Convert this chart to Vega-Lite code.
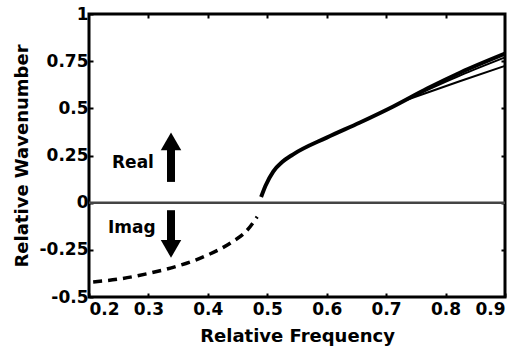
{
  "$schema": "https://vega.github.io/schema/vega-lite/v6.json",
  "width": 416,
  "height": 283,
  "autosize": {"type": "none"},
  "padding": {"left": 89, "top": 14, "right": 25, "bottom": 64},
  "background": "white",
  "config": {
    "view": {"stroke": "black", "strokeWidth": 3},
    "axis": {
      "labelFont": "DejaVu Sans", "labelFontWeight": "bold", "labelFontSize": 17, "labelColor": "black",
      "titleFont": "DejaVu Sans", "titleFontWeight": "bold", "titleFontSize": 18, "titleColor": "black",
      "grid": false, "domain": false, "tickColor": "black", "tickWidth": 2, "tickSize": -4
    }
  },
  "resolve": {"axis": {"x": "independent", "y": "independent"}},
  "datasets": {
    "curves": [
      {"series": "imag", "f": 0.207, "k": -0.42},
      {"series": "imag", "f": 0.25, "k": -0.405},
      {"series": "imag", "f": 0.30, "k": -0.375},
      {"series": "imag", "f": 0.35, "k": -0.335},
      {"series": "imag", "f": 0.40, "k": -0.277},
      {"series": "imag", "f": 0.44, "k": -0.21},
      {"series": "imag", "f": 0.465, "k": -0.15},
      {"series": "imag", "f": 0.483, "k": -0.075},
      {"series": "real", "f": 0.4896, "k": 0.03},
      {"series": "real", "f": 0.497, "k": 0.09},
      {"series": "real", "f": 0.51, "k": 0.165},
      {"series": "real", "f": 0.525, "k": 0.215},
      {"series": "real", "f": 0.543, "k": 0.255},
      {"series": "real", "f": 0.60, "k": 0.345},
      {"series": "real", "f": 0.656, "k": 0.425},
      {"series": "real", "f": 0.712, "k": 0.51},
      {"series": "real", "f": 0.769, "k": 0.605},
      {"series": "real", "f": 0.825, "k": 0.69},
      {"series": "real", "f": 0.9, "k": 0.79},
      {"series": "mid", "f": 0.74, "k": 0.555},
      {"series": "mid", "f": 0.825, "k": 0.675},
      {"series": "mid", "f": 0.9, "k": 0.77},
      {"series": "low", "f": 0.73, "k": 0.54},
      {"series": "low", "f": 0.825, "k": 0.645},
      {"series": "low", "f": 0.9, "k": 0.725}
    ],
    "arrows": [
      {"label": "Real", "tx": 0.274, "ty": 0.21, "ax": 0.338, "base": 0.11, "tip": 0.325, "head": "up"},
      {"label": "Imag", "tx": 0.272, "ty": -0.135, "ax": 0.338, "base": -0.04, "tip": -0.245, "head": "down"}
    ]
  },
  "layer": [
    {
      "data": {"values": [{"k": 0}]},
      "mark": {"type": "rule", "color": "#444", "strokeWidth": 2.5},
      "encoding": {"y": {"field": "k", "type": "quantitative", "axis": null}}
    },
    {
      "data": {"name": "curves"},
      "transform": [{"filter": "datum.series === 'imag'"}],
      "mark": {"type": "line", "color": "black", "strokeWidth": 3.5, "strokeDash": [9, 6], "interpolate": "monotone"},
      "encoding": {
        "x": {"field": "f", "type": "quantitative", "scale": {"domain": [0.2, 0.9], "nice": false},
              "axis": {"title": "Relative Frequency", "values": [0.2, 0.3, 0.4, 0.5, 0.6, 0.7, 0.8, 0.9], "format": ".1f", "labelPadding": 8, "titlePadding": 10}},
        "y": {"field": "k", "type": "quantitative", "scale": {"domain": [-0.5, 1], "nice": false},
              "axis": {"title": "Relative Wavenumber", "values": [-0.5, -0.25, 0, 0.25, 0.5, 0.75, 1], "labelExpr": "toString(datum.value)", "labelPadding": 5, "titlePadding": 8}}
      }
    },
    {
      "data": {"name": "curves"},
      "transform": [{"filter": "datum.series === 'real'"}],
      "mark": {"type": "line", "color": "black", "strokeWidth": 4, "interpolate": "monotone"},
      "encoding": {
        "x": {"field": "f", "type": "quantitative", "axis": {"orient": "top", "labels": false, "title": null, "values": [0.3, 0.4, 0.5, 0.6, 0.7, 0.8]}},
        "y": {"field": "k", "type": "quantitative", "axis": {"orient": "right", "labels": false, "title": null, "values": [-0.25, 0, 0.25, 0.5, 0.75]}}
      }
    },
    {
      "data": {"name": "curves"},
      "transform": [{"filter": "datum.series === 'mid' || datum.series === 'low'"}],
      "mark": {"type": "line", "color": "black", "strokeWidth": 2, "interpolate": "monotone"},
      "encoding": {
        "x": {"field": "f", "type": "quantitative", "axis": null},
        "y": {"field": "k", "type": "quantitative", "axis": null},
        "detail": {"field": "series"}
      }
    },
    {
      "data": {"name": "arrows"},
      "mark": {"type": "rule", "color": "black", "strokeWidth": 8},
      "encoding": {
        "x": {"field": "ax", "type": "quantitative", "axis": null},
        "y": {"field": "base", "type": "quantitative", "axis": null},
        "y2": {"field": "tip"}
      }
    },
    {
      "data": {"name": "arrows"},
      "transform": [{"filter": "datum.head === 'up'"}],
      "mark": {"type": "point", "shape": "triangle-up", "filled": true, "color": "black", "opacity": 1, "size": 420},
      "encoding": {
        "x": {"field": "ax", "type": "quantitative", "axis": null},
        "y": {"field": "tip", "type": "quantitative", "axis": null}
      }
    },
    {
      "data": {"name": "arrows"},
      "transform": [{"filter": "datum.head === 'down'"}],
      "mark": {"type": "point", "shape": "triangle-down", "filled": true, "color": "black", "opacity": 1, "size": 420},
      "encoding": {
        "x": {"field": "ax", "type": "quantitative", "axis": null},
        "y": {"field": "tip", "type": "quantitative", "axis": null}
      }
    },
    {
      "data": {"name": "arrows"},
      "mark": {"type": "text", "font": "DejaVu Sans", "fontWeight": "bold", "fontSize": 17, "color": "black"},
      "encoding": {
        "x": {"field": "tx", "type": "quantitative", "axis": null},
        "y": {"field": "ty", "type": "quantitative", "axis": null},
        "text": {"field": "label"}
      }
    }
  ]
}
